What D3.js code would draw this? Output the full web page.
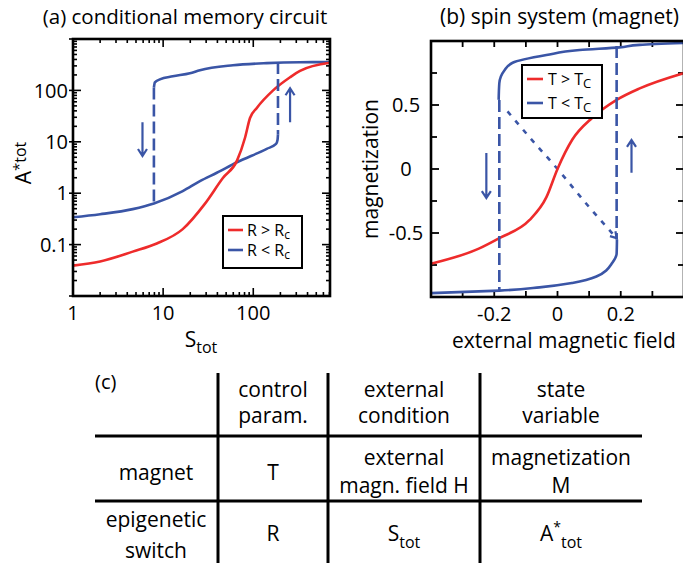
<!DOCTYPE html>
<html>
<head>
<meta charset="utf-8">
<script src="https://d3js.org/d3.v7.min.js"></script>
<style>
  body { margin: 0; background: #fff; }
  text { font-family: 'Open Sans', sans-serif; fill: #000; }
</style>
</head>
<body>
<svg width="683" height="563"></svg>
<script>
// (a) conditional memory circuit: A*tot vs Stot (log-log)
const aRedS = [1, 2, 4.6, 8.5, 16.5, 29, 46, 66, 81, 92, 110, 166, 256, 330, 710];
const aRedA = [0.039, 0.047, 0.073, 0.105, 0.2, 0.62, 1.97, 4.3, 12, 29, 46, 100, 180, 240, 345];
const aBlueLowS = [1, 2, 4.6, 7.9, 16.5, 25.6, 39.4, 66, 141, 179, 186, 188];
const aBlueLowA = [0.34, 0.39, 0.49, 0.63, 1.1, 1.72, 2.5, 4.0, 7.3, 9.1, 11, 14];
const aBlueUpS = [7.9, 8.1, 9.2, 12.8, 19.8, 25.6, 59.5, 141, 330, 710];
const aBlueUpA = [114, 143, 164, 188, 215, 247, 308, 339, 353, 355];
const aJumpS = [7.9, 188];
const aJumpTop = [114, 355];
const aJumpBottom = [0.63, 14];
const aArrowS = [5.9, 256];
const aArrowFrom = [24, 24];
const aArrowTo = [5.3, 110];
const aXTicks = [1, 10, 100];
const aYTicks = [0.1, 1, 10, 100];

// (b) spin system: magnetization vs external field
const bRedH = [-0.4, -0.247, -0.184, -0.089, -0.035, 0, 0.047, 0.11, 0.187, 0.26, 0.4];
const bRedM = [-0.74, -0.62, -0.54, -0.40, -0.22, 0, 0.23, 0.40, 0.54, 0.63, 0.75];
const bBlueUpH = [-0.186, -0.184, -0.168, -0.142, -0.035, 0.07, 0.196, 0.26, 0.4];
const bBlueUpM = [0.54, 0.67, 0.77, 0.83, 0.89, 0.93, 0.95, 0.97, 0.985];
const bBlueLowH = [-0.4, -0.184, -0.057, 0.047, 0.123, 0.174, 0.187, 0.188];
const bBlueLowM = [-0.97, -0.95, -0.925, -0.89, -0.84, -0.73, -0.66, -0.55];
const bUnstableH = [-0.158, -0.089, 0, 0.101, 0.187];
const bUnstableM = [0.45, 0.25, 0, -0.30, -0.54];
const bJumpH = [-0.184, 0.187];
const bJumpTop = [0.54, 0.96];
const bJumpBottom = [-0.95, -0.55];
const bArrowH = [-0.225, 0.234];
const bArrowFrom = [0.125, -0.03];
const bArrowTo = [-0.227, 0.227];
const bXTicks = [-0.2, 0, 0.2];
const bYTicks = [-0.5, 0, 0.5];

// (c) table
const tableHead = [["(c)"], ["control", "param."], ["external", "condition"], ["state", "variable"]];
const tableRow1 = [["magnet"], ["T"], ["external", "magn. field H"], ["magnetization", "M"]];

const red = "#ee2b2b", blue = "#3a55a6";
const svg = d3.select("svg");

function arrow(g, x, y1, y2) {
  const s = y2 > y1 ? -1 : 1;
  g.append("path")
    .attr("d", `M${x},${y1}L${x},${y2}M${x - 4.5},${y2 + s * 7}L${x},${y2}L${x + 4.5},${y2 + s * 7}`)
    .attr("fill", "none").attr("stroke", blue).attr("stroke-width", 2.2);
}

function frame(g, x0, x1, y0, y1) {
  g.append("rect").attr("x", x0).attr("y", y0)
    .attr("width", x1 - x0).attr("height", y1 - y0)
    .attr("fill", "none").attr("stroke", "#000").attr("stroke-width", 2.6);
}

// ---------- panel a ----------
const ga = svg.append("g");
const xa = d3.scaleLog().domain([1, 710]).range([73, 330]);
const ya = d3.scaleLog().domain([0.01, 1000]).range([296, 39]);
const isMajor = v => Math.abs(Math.log10(v) - Math.round(Math.log10(v))) < 1e-6;

xa.ticks().forEach(v => {
  const len = isMajor(v) ? 8 : 4;
  ga.append("line").attr("x1", xa(v)).attr("x2", xa(v)).attr("y1", 296).attr("y2", 296 - len)
    .attr("stroke", "#000").attr("stroke-width", 1.6);
  ga.append("line").attr("x1", xa(v)).attr("x2", xa(v)).attr("y1", 39).attr("y2", 39 + len)
    .attr("stroke", "#000").attr("stroke-width", 1.6);
});
ya.ticks().forEach(v => {
  const len = isMajor(v) ? 8 : 4;
  ga.append("line").attr("y1", ya(v)).attr("y2", ya(v)).attr("x1", isMajor(v) ? 69 : 73).attr("x2", 73 + len)
    .attr("stroke", "#000").attr("stroke-width", 1.6);
  ga.append("line").attr("y1", ya(v)).attr("y2", ya(v)).attr("x1", 330).attr("x2", 330 - len)
    .attr("stroke", "#000").attr("stroke-width", 1.6);
});

const lineA = d3.line().x(d => xa(d[0])).y(d => ya(d[1])).curve(d3.curveMonotoneX);
ga.append("path").datum(d3.zip(aBlueLowS, aBlueLowA)).attr("d", lineA)
  .attr("fill", "none").attr("stroke", blue).attr("stroke-width", 2.6);
ga.append("path").datum(d3.zip(aBlueUpS, aBlueUpA)).attr("d", lineA)
  .attr("fill", "none").attr("stroke", blue).attr("stroke-width", 2.6);
ga.append("path").datum(d3.zip(aRedS, aRedA)).attr("d", lineA)
  .attr("fill", "none").attr("stroke", red).attr("stroke-width", 2.6);
aJumpS.forEach((s, i) => {
  ga.append("line").attr("x1", xa(s)).attr("x2", xa(s))
    .attr("y1", ya(aJumpTop[i])).attr("y2", ya(aJumpBottom[i]))
    .attr("stroke", blue).attr("stroke-width", 2.6).attr("stroke-dasharray", "12,5");
});
aArrowS.forEach((s, i) => arrow(ga, xa(s), ya(aArrowFrom[i]), ya(aArrowTo[i])));
frame(ga, 73, 330, 39, 296);

aXTicks.forEach(v => ga.append("text").attr("x", xa(v)).attr("y", 320)
  .attr("text-anchor", "middle").attr("font-size", 20).text(d3.format("~g")(v)));
aYTicks.forEach(v => ga.append("text").attr("x", 68).attr("y", ya(v)).attr("dy", "0.36em")
  .attr("text-anchor", "end").attr("font-size", 20).text(d3.format("~g")(v)));

ga.append("text").attr("x", 185).attr("y", 24).attr("text-anchor", "middle")
  .attr("font-size", 20.5).text("(a) conditional memory circuit");
const xla = ga.append("text").attr("x", 201).attr("y", 347).attr("text-anchor", "middle").attr("font-size", 21);
xla.append("tspan").text("S");
xla.append("tspan").attr("font-size", 16).attr("dy", 6).text("tot");
const yla = ga.append("text").attr("transform", "translate(31,163) rotate(-90)")
  .attr("text-anchor", "middle").attr("font-size", 21);
yla.append("tspan").text("A");
yla.append("tspan").attr("font-size", 15).attr("dy", -7).text("*");
yla.append("tspan").attr("font-size", 16).attr("dy", 2).text("tot");

// legend a
ga.append("rect").attr("x", 223).attr("y", 216).attr("width", 79).attr("height", 52)
  .attr("fill", "#fff").attr("stroke", "#000").attr("stroke-width", 2);
[["R > R", red], ["R < R", blue]].forEach((d, i) => {
  const y = 230 + i * 20;
  ga.append("line").attr("x1", 228).attr("x2", 243).attr("y1", y).attr("y2", y)
    .attr("stroke", d[1]).attr("stroke-width", 2.6);
  const t = ga.append("text").attr("x", 247).attr("y", y + 6).attr("font-size", 16);
  t.append("tspan").text(d[0]);
  t.append("tspan").attr("font-size", 12).attr("dy", 3).text("c");
});

// ---------- panel b ----------
const gb = svg.append("g");
const xb = d3.scaleLinear().domain([-0.4, 0.4]).range([431, 684]);
const yb = d3.scaleLinear().domain([-1, 1]).range([297, 41]);

d3.range(-0.4, 0.41, 0.1).forEach(v => {
  gb.append("line").attr("x1", xb(v)).attr("x2", xb(v)).attr("y1", 297).attr("y2", 291)
    .attr("stroke", "#000").attr("stroke-width", 1.8);
  gb.append("line").attr("x1", xb(v)).attr("x2", xb(v)).attr("y1", 41).attr("y2", 47)
    .attr("stroke", "#000").attr("stroke-width", 1.8);
});
d3.range(-1, 1.01, 0.25).forEach(v => {
  const len = Math.abs(v * 2 - Math.round(v * 2)) < 1e-6 ? 8 : 6;
  gb.append("line").attr("y1", yb(v)).attr("y2", yb(v)).attr("x1", 431).attr("x2", 431 + len)
    .attr("stroke", "#000").attr("stroke-width", 1.8);
  gb.append("line").attr("y1", yb(v)).attr("y2", yb(v)).attr("x1", 684).attr("x2", 684 - len)
    .attr("stroke", "#000").attr("stroke-width", 1.8);
});

const lineBx = d3.line().x(d => xb(d[0])).y(d => yb(d[1])).curve(d3.curveMonotoneX);
const lineBy = d3.line().x(d => xb(d[0])).y(d => yb(d[1])).curve(d3.curveMonotoneY);
gb.append("path").datum(d3.zip(bBlueUpH, bBlueUpM).sort((a, b) => b[1] - a[1])).attr("d", lineBy)
  .attr("fill", "none").attr("stroke", blue).attr("stroke-width", 2.6);
gb.append("path").datum(d3.zip(bBlueLowH, bBlueLowM).sort((a, b) => b[1] - a[1])).attr("d", lineBy)
  .attr("fill", "none").attr("stroke", blue).attr("stroke-width", 2.6);
gb.append("path").datum(d3.zip(bUnstableH, bUnstableM)).attr("d", lineBx)
  .attr("fill", "none").attr("stroke", blue).attr("stroke-width", 2.6).attr("stroke-dasharray", "5,7");
{
  const n = bUnstableH.length;
  const ex = xb(bUnstableH[n - 1]), ey = yb(bUnstableM[n - 1]);
  const ang = Math.atan2(ey - yb(bUnstableM[n - 2]), ex - xb(bUnstableH[n - 2]));
  const p = a => [ex - 7 * Math.cos(ang + a), ey - 7 * Math.sin(ang + a)];
  const l = p(0.55), r = p(-0.55);
  gb.append("path").attr("d", `M${l}L${ex},${ey}L${r}`)
    .attr("fill", "none").attr("stroke", blue).attr("stroke-width", 2.2);
}
gb.append("path").datum(d3.zip(bRedH, bRedM)).attr("d", lineBx)
  .attr("fill", "none").attr("stroke", red).attr("stroke-width", 2.6);
bJumpH.forEach((h, i) => {
  gb.append("line").attr("x1", xb(h)).attr("x2", xb(h))
    .attr("y1", yb(bJumpTop[i])).attr("y2", yb(bJumpBottom[i]))
    .attr("stroke", blue).attr("stroke-width", 2.6).attr("stroke-dasharray", "12,5");
});
bArrowH.forEach((h, i) => arrow(gb, xb(h), yb(bArrowFrom[i]), yb(bArrowTo[i])));
frame(gb, 431, 684, 41, 297);

bXTicks.forEach(v => gb.append("text").attr("x", xb(v)).attr("y", 321)
  .attr("text-anchor", "middle").attr("font-size", 20).text(d3.format("~g")(v).replace("−", "-")));
bYTicks.forEach(v => gb.append("text").attr("x", 406).attr("y", yb(v)).attr("dy", "0.36em")
  .attr("text-anchor", "middle").attr("font-size", 20).text(d3.format("~g")(v).replace("−", "-")));

gb.append("text").attr("x", 440).attr("y", 24).attr("font-size", 21).text("(b) spin system (magnet)");
gb.append("text").attr("x", 452).attr("y", 348).attr("font-size", 21).text("external magnetic field");
gb.append("text").attr("transform", "translate(378,169) rotate(-90)")
  .attr("text-anchor", "middle").attr("font-size", 21).text("magnetization");

// legend b
gb.append("rect").attr("x", 522).attr("y", 65).attr("width", 80).attr("height", 53)
  .attr("fill", "#fff").attr("stroke", "#000").attr("stroke-width", 2);
[["T > T", red], ["T < T", blue]].forEach((d, i) => {
  const y = 79 + i * 24;
  gb.append("line").attr("x1", 527).attr("x2", 543).attr("y1", y).attr("y2", y)
    .attr("stroke", d[1]).attr("stroke-width", 2.6);
  const t = gb.append("text").attr("x", 548).attr("y", y + 6).attr("font-size", 16);
  t.append("tspan").text(d[0]);
  t.append("tspan").attr("font-size", 13).attr("dy", 3).text("C");
});

// ---------- table c ----------
const gc = svg.append("g");
const colX = [156, 273, 404, 561];
[436, 501].forEach(y => gc.append("line").attr("x1", 95).attr("x2", 642).attr("y1", y).attr("y2", y)
  .attr("stroke", "#000").attr("stroke-width", 3));
[218, 328, 480].forEach(x => gc.append("line").attr("x1", x).attr("x2", x).attr("y1", 373).attr("y2", 563)
  .attr("stroke", "#000").attr("stroke-width", 3));

gc.append("text").attr("x", 95).attr("y", 389).attr("font-size", 20).text(tableHead[0][0]);
tableHead.slice(1).forEach((c, i) => {
  c.forEach((s, j) => gc.append("text").attr("x", colX[i + 1]).attr("y", 397 + j * 26)
    .attr("text-anchor", "middle").attr("font-size", 21).text(s));
});
tableRow1.forEach((c, i) => {
  c.forEach((s, j) => gc.append("text").attr("x", colX[i])
    .attr("y", c.length === 1 ? 480 : 465 + j * 28)
    .attr("text-anchor", "middle").attr("font-size", 21).text(s));
});
["epigenetic", "switch"].forEach((s, j) => gc.append("text").attr("x", colX[0]).attr("y", 527 + j * 31)
  .attr("text-anchor", "middle").attr("font-size", 21).text(s));
gc.append("text").attr("x", colX[1]).attr("y", 541).attr("text-anchor", "middle").attr("font-size", 21).text("R");
{
  const t = gc.append("text").attr("x", colX[2]).attr("y", 541).attr("text-anchor", "middle").attr("font-size", 21);
  t.append("tspan").text("S");
  t.append("tspan").attr("font-size", 16).attr("dy", 7).text("tot");
}
{
  const t = gc.append("text").attr("x", colX[3]).attr("y", 541).attr("text-anchor", "middle").attr("font-size", 21);
  t.append("tspan").text("A");
  t.append("tspan").attr("font-size", 14).attr("dy", -9).text("*");
  t.append("tspan").attr("font-size", 16).attr("dy", 16).text("tot");
}
</script>
</body>
</html>
